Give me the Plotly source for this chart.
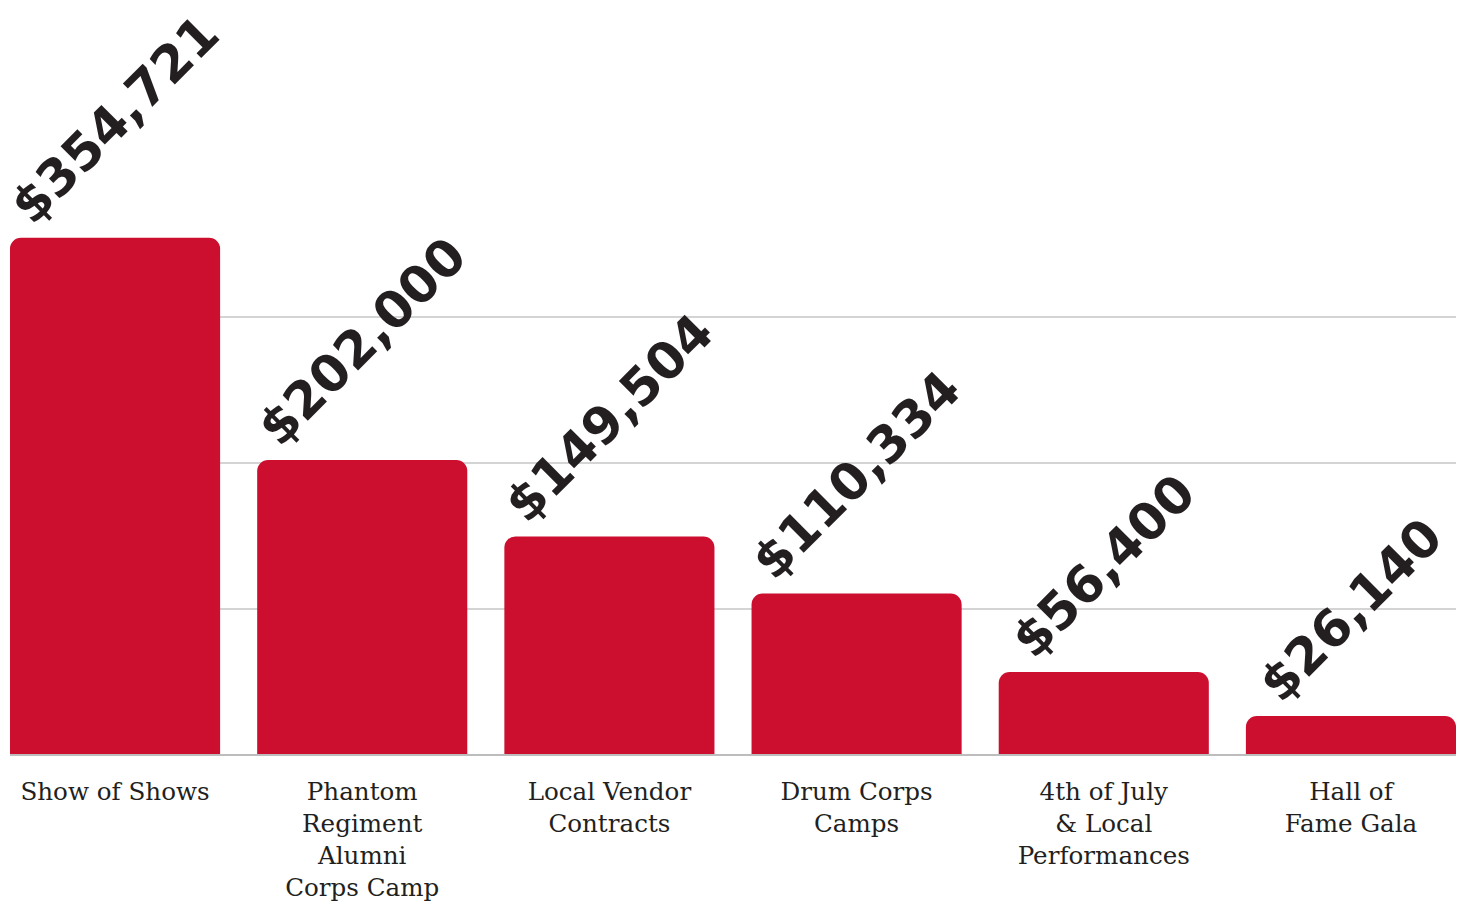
import plotly.graph_objects as go

categories = [
    "Show of Shows",
    "Phantom<br>Regiment<br>Alumni<br>Corps Camp",
    "Local Vendor<br>Contracts",
    "Drum Corps<br>Camps",
    "4th of July<br>& Local<br>Performances",
    "Hall of<br>Fame Gala",
]
revenue = [354721, 202000, 149504, 110334, 56400, 26140]
grid_values = [100000, 200000, 300000]

BAR_RED = "#CC0F2E"
INK = "#231F20"

fig = go.Figure(
    go.Bar(
        x=categories,
        y=revenue,
        marker=dict(color=BAR_RED, line=dict(width=0)),
        texttemplate="$%{y:,}",
        textposition="outside",
        textangle=-45,
        constraintext="none",
        cliponaxis=False,
        textfont=dict(family="DejaVu Sans", size=51, color=INK, weight="bold"),
        hoverinfo="skip",
    )
)

fig.update_layout(
    width=1465,
    height=902,
    margin=dict(l=10, r=9, t=0, b=148),
    paper_bgcolor="white",
    plot_bgcolor="white",
    bargap=0.15,
    barcornerradius=11,
    showlegend=False,
)

fig.update_xaxes(
    type="category",
    range=[-0.425, 5.425],
    showgrid=False,
    showline=True,
    linecolor="#BDBDBD",
    linewidth=1.5,
    ticks="",
    tickfont=dict(family="DejaVu Serif", size=24.6, color=INK),
    ticklabelstandoff=15,
)

fig.update_yaxes(
    range=[0, 518200],
    tickvals=grid_values,
    showticklabels=False,
    showgrid=True,
    gridcolor="#D4D4D4",
    gridwidth=1.5,
    zeroline=False,
    showline=False,
)

fig.write_html("out.html")
